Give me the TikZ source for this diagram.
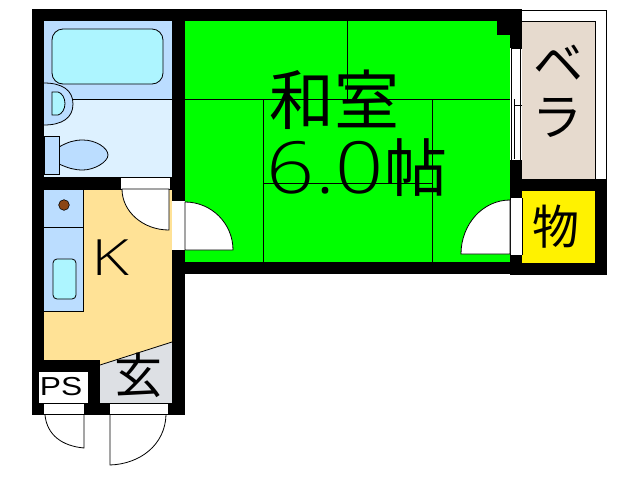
\documentclass[tikz,border=0pt]{standalone}
\usepackage{fontspec}
\newfontfamily\cjk{Noto Sans CJK JP}
\newfontfamily\lat{Open Sans}[UprightFont=* Light]
\newfontfamily\latb{Liberation Sans}
\definecolor{tatami}{HTML}{00FF00}
\definecolor{kit}{HTML}{FFE296}
\definecolor{bathA}{HTML}{BBDDFF}
\definecolor{bathB}{HTML}{DDF1FF}
\definecolor{tub}{HTML}{ADF5FF}
\definecolor{beran}{HTML}{E6DACE}
\definecolor{genk}{HTML}{DDE0E4}
\definecolor{stove}{HTML}{8B4513}
\tikzset{
  wall/.style={fill=black,draw=none},
  thin line/.style={draw=black,line width=0.8pt},
  door/.style={fill=white,draw=black,line width=0.8pt},
  lbl/.style={inner sep=0pt,outer sep=0pt,text=black,anchor=center},
}
\begin{document}
\begin{tikzpicture}[x=1pt,y=-1pt]
\useasboundingbox (0,0) rectangle (638,480);
% floors
\fill[tatami] (185,21) rectangle (510,262);
\fill[bathA] (44,21) rectangle (172,99);
\fill[bathB] (44,99) rectangle (172,177);
\fill[kit] (44,189) rectangle (172,365);
\fill[genk] (100,365) -- (172,342) -- (172,403) -- (100,403) -- cycle;
\fill[beran] (522,21) rectangle (595,179);
\fill[yellow] (522,191) rectangle (595,263);
% walls
\fill[wall] (32,9) rectangle (522,21);
\fill[wall] (32,9) rectangle (44,415);
\fill[wall] (172,9) rectangle (185,200);
\fill[wall] (172,250) rectangle (185,415);
\fill[wall] (44,177) rectangle (121,189);
\fill[wall] (170,177) rectangle (172,189);
\fill[wall] (185,262) rectangle (522,274);
\fill[wall] (497,21) rectangle (522,35);
\fill[wall] (510,35) rectangle (522,48);
\fill[wall] (510,160) rectangle (522,198);
\fill[wall] (510,255) rectangle (522,274);
\fill[wall] (510,179) rectangle (607,191);
\fill[wall] (595,179) rectangle (607,275);
\fill[wall] (510,263) rectangle (607,275);
\fill[wall] (44,360) rectangle (100,372);
\fill[wall] (88,372) rectangle (100,403);
\fill[wall] (32,403) rectangle (185,415);
% openings
\fill[white] (121,177) rectangle (170,189);
\draw[thin line] (121,177) -- (170,177);
\fill[white] (172,200) rectangle (185,250);
\draw[thin line] (172,200) -- (185,200);
\fill[white] (510,198) rectangle (522,255);
\draw[thin line] (510,198) -- (510,255) (522,198) -- (522,255);
\fill[white] (510,48) rectangle (522,160);
\draw[thin line] (511,48) -- (522,48) (511,48) -- (511,160) -- (522,160) (514.5,99) -- (514.5,159) (520,48) -- (520,160) (515,105) -- (522,105);
\fill[white] (39,372) rectangle (88,403);
\fill[white] (44,403) rectangle (84,414);
\fill[white] (110,403) rectangle (168,414);
\draw[thin line] (44,403) -- (84,403) (110,403) -- (168,403);
% balcony outline
\draw[thin line] (522,10) -- (606,10) -- (606,179);
\draw[thin line] (522,21) -- (595,21) -- (595,179);
% tatami lines
\draw[thin line] (185,99) -- (510,99);
\draw[thin line] (347,21) -- (347,99);
\draw[thin line] (263,99) -- (263,262);
\draw[thin line] (432,99) -- (432,262);
\draw[thin line] (263,183) -- (432,183);
% bathroom
\draw[thin line] (44,99) ++(29,0) -- (172,99);
\draw[thin line,fill=tub,rounded corners=11pt] (52,29) rectangle (163,84);
\draw[thin line,fill=bathA] (44,83) .. controls (62,83) and (73,90) .. (73,104) .. controls (73,118) and (62,125) .. (44,125);
\draw[thin line,fill=tub] (52,92) -- (58,92) .. controls (62,93) and (65,98) .. (65,103.5) .. controls (65,109) and (62,114) .. (58,115) -- (52,115) -- cycle;
\draw[thin line,fill=bathA] (59,147) .. controls (68,142) and (74,140) .. (83,140) .. controls (96,140) and (108,148) .. (108,155) .. controls (108,162) and (94,170) .. (83,170) .. controls (74,170) and (68,168) .. (59,164) -- cycle;
\draw[thin line,fill=bathA] (44,136) rectangle (59,174);
% kitchen
\draw[fill=bathA,draw=none] (44,189) rectangle (83,311);
\draw[thin line] (44,189) -- (83,189) -- (83,311) -- (44,311);
\draw[thin line] (44,227) -- (83,227);
\draw[thin line] (83,189) -- (172,189);
\fill[stove,draw=black,line width=0.6pt] (64,205) circle (5.3);
\draw[thin line,fill=tub,rounded corners=4pt] (53,259) rectangle (76,299);
\draw[thin line] (100,365) -- (172,342);
% doors
\draw[door] (169,189) -- (122,189) arc[start angle=180,end angle=90,x radius=47,y radius=41] -- cycle;
\draw[door] (185,250) -- (233,250) arc[start angle=0,end angle=90,x radius=48,y radius=-48] -- cycle;
\draw[door] (510,254) -- (461,254) arc[start angle=180,end angle=90,x radius=49,y radius=-54] -- cycle;
\draw[thin line] (45,415) .. controls (47,435) and (62,446) .. (84,448) -- (84,415);
\draw[thin line] (166,415) .. controls (165,445) and (140,464) .. (110,465) -- (110,415);
% labels
\node[lbl,font=\cjk\fontsize{65}{65}\selectfont] (wa) at (334.5,100) {和室};
\node[lbl,font=\lat\fontsize{72}{72}\selectfont,transform shape,xscale=1.17] (num) at (325,168) {6.0};
\node[lbl,font=\cjk\fontsize{63}{63}\selectfont] (cho) at (416,168) {帖};
\node[lbl,font=\lat\fontsize{50}{50}\selectfont,transform shape,xscale=1.3] (k) at (110.5,258) {K};
\node[lbl,font=\latb\fontsize{26}{26}\selectfont,transform shape,xscale=1.22] (ps) at (61,387) {PS};
\node[lbl,font=\cjk\fontsize{48}{48}\selectfont] (gen) at (138.5,375) {玄};
\node[lbl,font=\cjk\fontsize{50}{50}\selectfont] (be) at (558,63) {ベ};
\node[lbl,font=\cjk\fontsize{50}{50}\selectfont] (ra) at (557,118) {ラ};
\node[lbl,font=\cjk\fontsize{47}{47}\selectfont] (mono) at (556,227) {物};
\end{tikzpicture}
\end{document}
